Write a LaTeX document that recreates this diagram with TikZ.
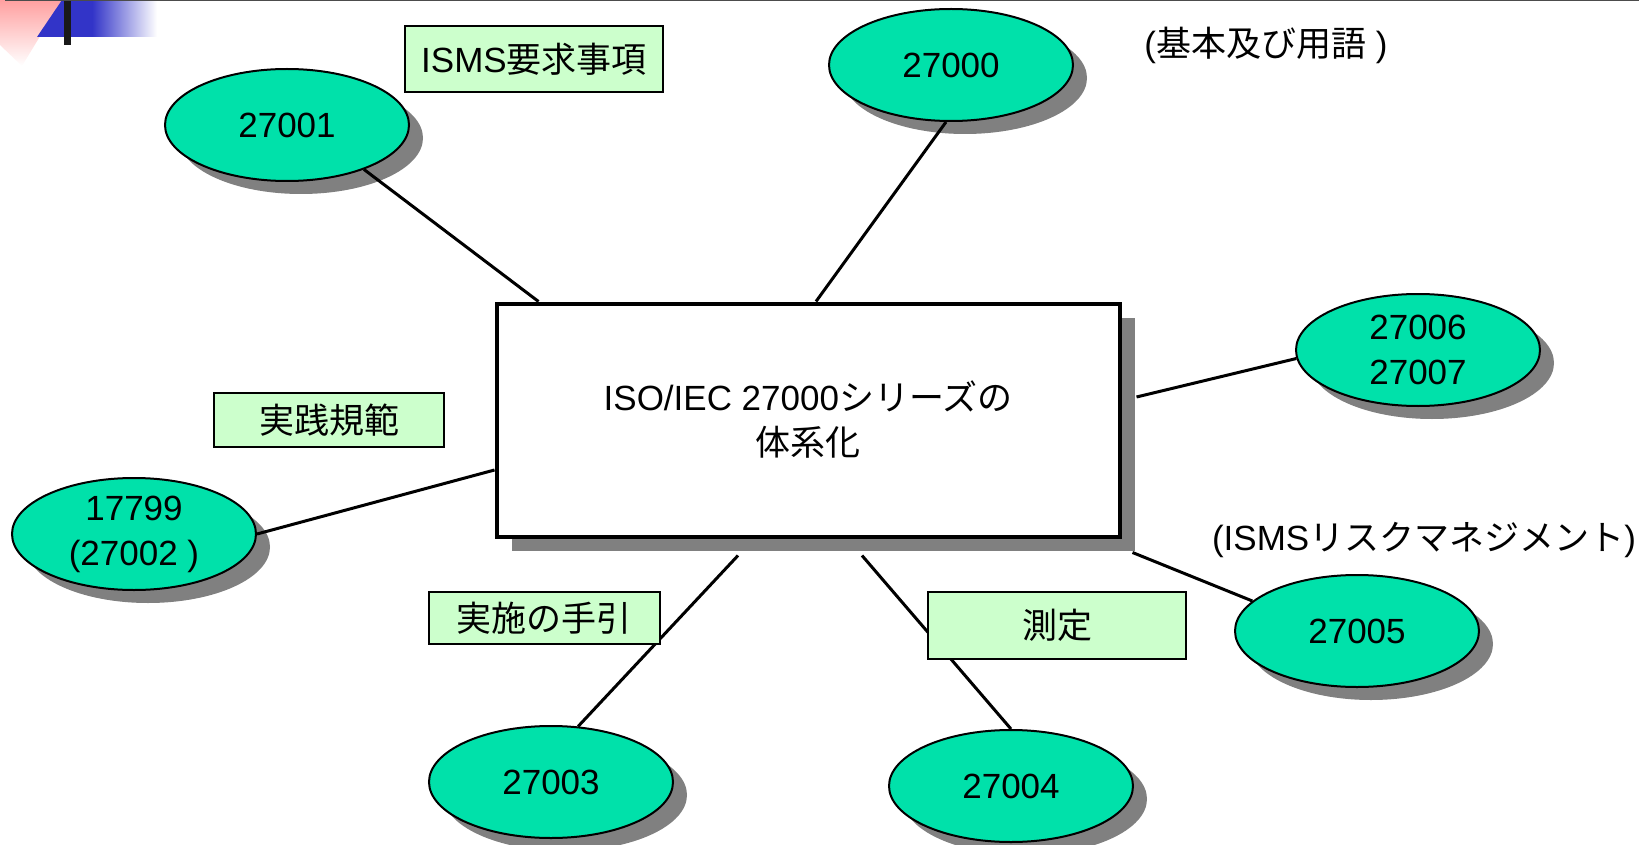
\documentclass[tikz,border=0pt]{standalone}
\usepackage{fontspec}
\setmainfont{Liberation Sans}
\newfontfamily\jp{Noto Sans CJK JP}
\usepackage{tikz}
\usetikzlibrary{shapes.geometric,shadows}

\definecolor{mint}{RGB}{0,225,170}
\definecolor{pale}{RGB}{204,255,204}
\definecolor{shadowgray}{RGB}{128,128,128}
\definecolor{barblue}{RGB}{50,52,200}
\definecolor{pinkish}{RGB}{255,160,160}

\tikzset{
	std/.style={ellipse, draw, line width=2pt, fill=mint, minimum width=244pt, minimum height=112pt, inner sep=0pt, align=center,
		drop shadow={shadow xshift=14pt, shadow yshift=-13pt, fill=shadowgray, opacity=1}},
	tag/.style={draw, line width=2pt, fill=pale, inner sep=0pt},
	link/.style={line width=3pt}
}

\begin{document}
\begin{tikzpicture}[x=1pt, y=-1pt, font=\fontsize{35}{45}\selectfont]
				\useasboundingbox (0,0) rectangle (1639,845);

				\shade[top color=pinkish, bottom color=white] (0,0) -- (62,0) -- (22,66) -- (0,45) -- cycle;
				\fill[barblue] (62,0) -- (92,0) -- (92,37) -- (37,37) -- cycle;
				\shade[left color=barblue, right color=white] (92,0) rectangle (157,37);
				\fill[black!90] (64,0) rectangle (71,45);
				\draw[gray!60!black, line width=1.5pt] (5,0.75) -- (1639,0.75);

				\node[draw, line width=4pt, fill=white, minimum width=623pt, minimum height=233pt, align=center,
					drop shadow={shadow xshift=15pt, shadow yshift=-14pt, fill=shadowgray, opacity=1}]
					(core) at (808,420) {ISO/IEC 27000{\jp シリーズの}\\{\jp 体系化}};

				\node[std] (n27001) at (287,125) {27001};
				\node[std] (n27000) at (951,65) {27000};
				\node[std] (n27006) at (1418,350) {27006\\27007};
				\node[std] (n17799) at (134,534) {17799\\(27002 )};
				\node[std] (n27005) at (1357,631) {27005};
				\node[std] (n27003) at (551,782) {27003};
				\node[std] (n27004) at (1011,786) {27004};

				\draw[link] (n27001.-30) -- ([shift={(44,0)}]core.north west);
				\draw[link] (n27000.-95) -- ([shift={(8,0)}]core.north);
				\draw[link] (n27006.184) -- ([shift={(15,-23)}]core.east);
				\draw[link] (n17799.east) -- ([shift={(0,50)}]core.west);
				\draw[link] (n27005.164) -- ([shift={(11,14)}]core.south east);
				\draw[link] (n27003.64) -- ([shift={(-70,17)}]core.south);
				\draw[link] (n27004.north) -- ([shift={(54,17)}]core.south);

				\node[tag, minimum width=258pt, minimum height=66pt] (req) at (534,59) {ISMS{\jp 要求事項}};
				\node[tag, minimum width=230pt, minimum height=54pt] (code) at (329,420) {\jp 実践規範};
				\node[tag, minimum width=231pt, minimum height=52pt] (guide) at (544,618) {\jp 実施の手引};
				\node[tag, minimum width=258pt, minimum height=67pt] (meas) at (1057,625) {\jp 測定};

				\node (terms) at (1266,45) {({\jp 基本及び用語} )};
				\node (risk) at (1424,540) {(ISMS{\jp リスクマネジメント})};
			\end{tikzpicture}
\end{document}
